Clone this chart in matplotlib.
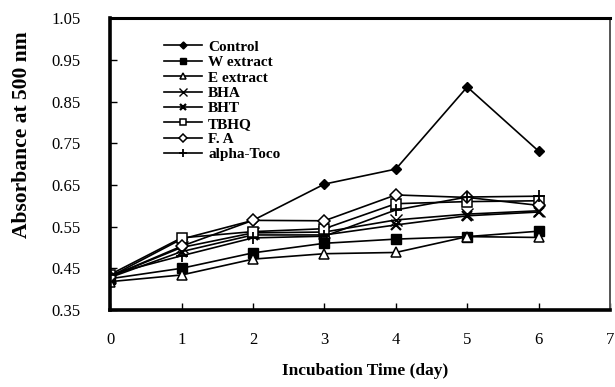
import numpy as np
import matplotlib.pyplot as plt

plt.rcParams['font.family'] = ['Liberation Serif', 'DejaVu Serif']

days = [0, 1, 2, 3, 4, 5, 6]

control = [0.430, 0.520, 0.565, 0.652, 0.688, 0.885, 0.731]
w_extract = [0.425, 0.450, 0.487, 0.510, 0.520, 0.526, 0.539]
e_extract = [0.418, 0.434, 0.472, 0.485, 0.488, 0.526, 0.524]
bha = [0.430, 0.500, 0.535, 0.537, 0.566, 0.580, 0.588]
bht = [0.428, 0.490, 0.530, 0.530, 0.554, 0.576, 0.585]
tbhq = [0.435, 0.523, 0.538, 0.545, 0.605, 0.610, 0.612]
fa = [0.430, 0.503, 0.565, 0.564, 0.626, 0.620, 0.601]
alpha_toco = [0.435, 0.480, 0.523, 0.527, 0.590, 0.621, 0.623]

series = [
    ("Control", control, dict(marker="D", ms=5.5, mfc="black", mec="black")),
    ("W extract", w_extract, dict(marker="s", ms=7, mfc="black", mec="black")),
    ("E extract", e_extract, dict(marker="^", ms=7.5, mfc="white", mec="black", mew=1.1)),
    ("BHA", bha, dict(marker="x", ms=8, mec="black", mew=1.0)),
    ("BHT", bht, dict(marker="x", ms=6.5, mec="black", mew=1.6)),
    ("TBHQ", tbhq, dict(marker="s", ms=7.5, mfc="white", mec="black", mew=1.1)),
    ("F. A", fa, dict(marker="D", ms=6.5, mfc="white", mec="black", mew=1.1)),
    ("alpha-Toco", alpha_toco, dict(marker="+", ms=9, mec="black", mew=1.3)),
]

fig = plt.figure(figsize=(6.15, 3.87), dpi=100)
ax = fig.add_axes([0.179, 0.199, 0.813, 0.754])

for name, vals, style in series:
    ax.plot(days, vals, color="black", lw=1.2, label=name, **style)

ax.set_xlim(0, 7)
ax.set_ylim(0.35, 1.05)
ax.set_xticks(range(0, 8))
yticks = np.arange(0.35, 1.06, 0.1)
ax.set_yticks(yticks)
ax.set_yticklabels([f"{v:.2f}" for v in yticks])
ax.tick_params(direction="in", length=5, width=1, labelsize=12)
ax.tick_params(axis="x", pad=16)
ax.tick_params(axis="y", pad=21)

for side in ["left", "bottom"]:
    ax.spines[side].set_linewidth(2.6)
ax.spines["top"].set_linewidth(2.2)
ax.spines["right"].set_linewidth(1.4)
ax.spines["right"].set_color("#555555")

ax.set_xlabel("Incubation Time (day)", fontsize=12.5, fontweight="bold")
ax.set_ylabel("Absorbance at 500 nm", fontsize=15.5, fontweight="bold")
ax.xaxis.set_label_coords(0.51, -0.18)
ax.yaxis.set_label_coords(-0.156, 0.60)

leg = ax.legend(loc="upper left", bbox_to_anchor=(0.08, 0.972), frameon=False,
                prop=dict(weight="bold", size=11), handlelength=2.5,
                labelspacing=0.11, handletextpad=0.4, markerscale=0.65)

fig.savefig("out.png", dpi=100)
